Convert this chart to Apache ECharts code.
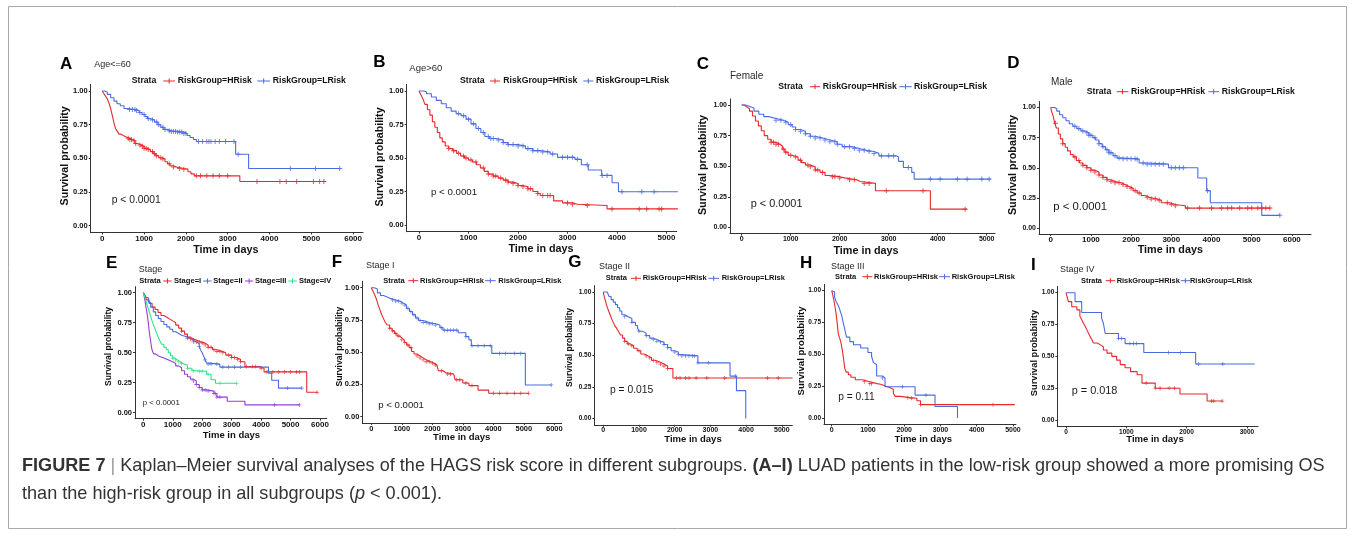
<!DOCTYPE html>
<html>
<head>
<meta charset="utf-8">
<script src="https://cdn.jsdelivr.net/npm/echarts@6/dist/echarts.min.js"></script>
<style>
html,body{margin:0;padding:0;background:#fff;}
#fig{width:1356px;height:536px;}
</style>
</head>
<body>
<div id="fig"></div>
<script>
// ---- Kaplan–Meier step curves: [time in days, survival after that time] ----
// Censoring times are listed separately; their heights come from the curve.

// A: Age<=60
const ageLow_H = [[0,1],[40,0.98],[80,0.96],[120,0.94],[160,0.91],[200,0.87],[230,0.83],[260,0.79],[290,0.75],[320,0.72],[360,0.70],[400,0.68],[450,0.67],[500,0.66],[560,0.65],[640,0.64],[720,0.63],[780,0.61],[850,0.60],[920,0.59],[1000,0.575],[1080,0.565],[1150,0.55],[1220,0.535],[1280,0.52],[1350,0.505],[1420,0.495],[1500,0.475],[1560,0.46],[1620,0.445],[1700,0.435],[1780,0.425],[1950,0.42],[2050,0.40],[2120,0.385],[2200,0.37],[3290,0.328],[5350,0.328]];
const ageLow_H_cens = [620,660,700,760,800,900,960,1000,1050,1100,1200,1250,1300,1400,1450,1600,1700,1850,1950,2250,2350,2500,2650,2800,3000,3700,4250,4400,4650,5050,5200,5300];
const ageLow_L = [[0,1],[60,0.99],[120,0.975],[200,0.95],[280,0.925],[350,0.905],[430,0.89],[520,0.87],[600,0.862],[800,0.855],[880,0.84],[950,0.825],[1020,0.81],[1080,0.795],[1150,0.785],[1250,0.77],[1330,0.75],[1400,0.73],[1470,0.715],[1550,0.705],[1650,0.70],[1800,0.695],[1950,0.685],[2030,0.67],[2100,0.655],[2180,0.64],[2250,0.625],[3190,0.53],[3500,0.425],[5700,0.425]];
const ageLow_L_cens = [650,720,780,820,900,1000,1100,1200,1300,1350,1450,1500,1600,1650,1700,1750,1800,1850,1900,1950,2000,2300,2400,2500,2550,2600,2700,2800,2950,3150,3250,4500,5100,5680];

// B: Age>60
const ageHigh_H = [[0,1],[40,0.97],[80,0.94],[120,0.90],[170,0.86],[220,0.82],[270,0.77],[320,0.73],[370,0.69],[420,0.65],[470,0.62],[530,0.59],[600,0.57],[680,0.555],[760,0.535],[840,0.515],[920,0.50],[1000,0.485],[1080,0.47],[1160,0.45],[1240,0.425],[1320,0.40],[1400,0.38],[1500,0.365],[1600,0.35],[1700,0.335],[1800,0.32],[1900,0.31],[2000,0.295],[2100,0.285],[2200,0.27],[2300,0.25],[2400,0.235],[2450,0.22],[2720,0.18],[2900,0.165],[3100,0.155],[3200,0.145],[3800,0.12],[5230,0.12]];
const ageHigh_H_cens = [600,700,800,900,950,1050,1150,1300,1400,1500,1550,1650,1750,1800,1900,2000,2100,2200,2250,2400,2500,2600,2650,3000,3100,3400,3900,4450,4600,4850,4900];
const ageHigh_L = [[0,1],[100,0.995],[150,0.98],[250,0.955],[350,0.93],[450,0.905],[550,0.875],[650,0.85],[750,0.83],[850,0.815],[950,0.79],[1050,0.755],[1150,0.72],[1250,0.69],[1330,0.66],[1420,0.645],[1550,0.635],[1700,0.615],[1800,0.60],[2000,0.59],[2150,0.57],[2300,0.555],[2450,0.545],[2650,0.53],[2800,0.505],[3150,0.49],[3280,0.45],[3420,0.41],[3690,0.37],[3900,0.315],[4030,0.248],[5230,0.248]];
const ageHigh_L_cens = [800,900,1000,1100,1200,1300,1400,1450,1500,1600,1700,1800,1900,2000,2100,2200,2300,2400,2500,2600,2700,2900,3000,3100,3200,3400,3700,3800,4100,4500,4750];

// C: Female
const female_H = [[0,1],[50,0.985],[100,0.97],[160,0.95],[220,0.91],[280,0.87],[340,0.83],[400,0.79],[460,0.75],[530,0.72],[600,0.695],[700,0.68],[780,0.665],[830,0.64],[880,0.615],[950,0.59],[1020,0.575],[1150,0.55],[1220,0.53],[1300,0.51],[1400,0.495],[1500,0.47],[1600,0.45],[1700,0.425],[1800,0.415],[2000,0.405],[2100,0.39],[2350,0.375],[2420,0.36],[2730,0.30],[3850,0.15],[4600,0.15]];
const female_H_cens = [600,650,700,750,850,900,1000,1100,1200,1350,1400,1500,1550,1650,1850,1900,2000,2200,2300,2500,2600,2950,3700,4560];
const female_L = [[0,1],[80,0.99],[150,0.975],[250,0.95],[350,0.925],[450,0.905],[550,0.89],[700,0.875],[850,0.86],[950,0.84],[1030,0.82],[1100,0.80],[1200,0.785],[1300,0.765],[1400,0.745],[1500,0.73],[1650,0.715],[1800,0.70],[1950,0.68],[2050,0.66],[2250,0.645],[2400,0.63],[2550,0.62],[2700,0.605],[2800,0.585],[3150,0.575],[3200,0.54],[3300,0.49],[3470,0.45],[3520,0.395],[5080,0.395]];
const female_L_cens = [700,800,900,1000,1100,1200,1300,1400,1500,1600,1700,1800,1900,1950,2100,2200,2300,2400,2500,2600,2700,2850,3000,3100,3400,3850,4050,4400,4600,4900,5050];

// D: Male
const male_H = [[0,1],[20,0.97],[60,0.93],[100,0.87],[140,0.83],[190,0.78],[240,0.74],[300,0.70],[360,0.67],[420,0.64],[490,0.61],[560,0.59],[640,0.56],[720,0.54],[800,0.52],[900,0.50],[1000,0.48],[1100,0.465],[1200,0.44],[1300,0.42],[1400,0.40],[1500,0.385],[1600,0.375],[1750,0.36],[1850,0.345],[1950,0.33],[2050,0.31],[2150,0.29],[2250,0.27],[2350,0.255],[2450,0.24],[2650,0.23],[2750,0.21],[2950,0.195],[3100,0.185],[3350,0.165],[5470,0.165]];
const male_H_cens = [120,300,600,700,800,900,1000,1100,1200,1300,1400,1500,1600,1700,1800,1900,2000,2100,2200,2400,2500,2600,2700,2900,3000,3100,3400,3700,4000,4250,4400,4500,4700,4900,5000,5150,5250,5350,5450];
const male_L = [[0,1],[100,0.99],[150,0.97],[220,0.94],[300,0.915],[380,0.89],[460,0.865],[550,0.845],[650,0.825],[750,0.805],[850,0.79],[950,0.77],[1050,0.75],[1120,0.73],[1200,0.70],[1280,0.675],[1360,0.65],[1450,0.625],[1550,0.60],[1650,0.58],[1800,0.575],[2150,0.57],[2200,0.54],[2400,0.53],[2930,0.50],[3660,0.415],[3880,0.31],[3970,0.21],[5250,0.105],[5700,0.105]];
const male_L_cens = [600,700,800,900,950,1000,1100,1200,1300,1400,1450,1500,1600,1700,1800,1900,2000,2100,2150,2300,2400,2500,2600,2700,2800,3000,3100,3200,3300,3900,5700];

// E: Stage (all four stages)
const stage_I = [[0,1],[60,0.97],[120,0.94],[200,0.91],[300,0.88],[400,0.86],[500,0.835],[600,0.81],[700,0.795],[800,0.78],[900,0.765],[1000,0.75],[1100,0.73],[1200,0.705],[1300,0.68],[1400,0.655],[1500,0.63],[1600,0.615],[1700,0.605],[1800,0.59],[1950,0.58],[2100,0.565],[2200,0.545],[2350,0.525],[2500,0.51],[2700,0.50],[2800,0.48],[3000,0.46],[3150,0.445],[3300,0.425],[3450,0.385],[3950,0.37],[4100,0.34],[5550,0.17],[5900,0.17]];
const stage_I_cens = [1300,1500,1600,1700,1800,1900,2000,2100,2200,2300,2400,2500,2600,2700,2900,3000,3100,3200,3300,3500,3700,3800,4000,4200,4400,4600,4800,5000,5200,5300,5900];
const stage_II = [[0,1],[50,0.98],[100,0.96],[170,0.92],[250,0.88],[340,0.84],[420,0.81],[510,0.785],[600,0.76],[700,0.735],[800,0.715],[900,0.695],[1000,0.675],[1100,0.66],[1200,0.645],[1300,0.635],[1450,0.62],[1600,0.605],[1700,0.59],[1800,0.575],[1900,0.55],[1950,0.52],[2000,0.50],[2050,0.47],[2100,0.44],[2150,0.415],[2200,0.405],[2600,0.38],[4250,0.33],[4360,0.27],[4590,0.205],[5380,0.205]];
const stage_II_cens = [1500,1700,1900,2100,2200,2300,2500,2700,2900,3100,3300,4900,5380];
const stage_III = [[0,1],[30,0.97],[60,0.93],[90,0.88],[120,0.84],[150,0.79],[180,0.73],[210,0.66],[240,0.61],[270,0.56],[300,0.52],[350,0.49],[420,0.475],[500,0.465],[600,0.455],[700,0.445],[800,0.435],[900,0.425],[1000,0.41],[1100,0.39],[1200,0.375],[1300,0.35],[1400,0.32],[1500,0.30],[1600,0.28],[1700,0.265],[1800,0.235],[1900,0.21],[2000,0.19],[2150,0.18],[2400,0.16],[2500,0.13],[2850,0.095],[3450,0.065],[5300,0.065]];
const stage_III_cens = [1700,1800,1900,2000,2100,2200,2400,2450,2500,2600,4450,5300];
const stage_IV = [[0,1],[40,0.97],[80,0.94],[130,0.90],[180,0.86],[230,0.82],[280,0.78],[330,0.74],[380,0.71],[440,0.67],[500,0.635],[560,0.60],[620,0.57],[700,0.545],[780,0.525],[850,0.50],[920,0.475],[1000,0.455],[1080,0.44],[1150,0.425],[1250,0.41],[1350,0.395],[1500,0.37],[1650,0.35],[1800,0.345],[2150,0.32],[2300,0.275],[2450,0.245],[3170,0.245]];
const stage_IV_cens = [1000,1100,1200,1300,1500,1700,1900,2000,2200,2600,3170];

// F: Stage I by risk group
const s1_H = [[0,1],[40,0.98],[80,0.96],[120,0.94],[170,0.91],[220,0.87],[280,0.83],[340,0.79],[400,0.76],[460,0.73],[520,0.71],[600,0.685],[680,0.665],[760,0.645],[840,0.625],[920,0.61],[1000,0.595],[1080,0.575],[1160,0.555],[1240,0.535],[1320,0.505],[1400,0.485],[1500,0.47],[1600,0.455],[1700,0.44],[1800,0.425],[1950,0.415],[2050,0.40],[2150,0.385],[2200,0.355],[2350,0.34],[2450,0.33],[2700,0.32],[2750,0.285],[3000,0.26],[3200,0.24],[3500,0.205],[3850,0.18],[5150,0.18]];
const s1_H_cens = [600,700,800,900,1000,1100,1200,1300,1500,1600,1700,1800,1900,2000,2100,2300,2500,2600,2800,2900,3100,3300,4000,4200,4450,4700,4900,5150];
const s1_L = [[0,1],[100,0.99],[200,0.96],[300,0.94],[400,0.93],[500,0.915],[650,0.905],[800,0.895],[950,0.88],[1050,0.865],[1150,0.84],[1250,0.815],[1350,0.79],[1450,0.765],[1550,0.745],[1700,0.73],[1900,0.72],[2100,0.71],[2250,0.69],[2350,0.67],[2850,0.65],[3100,0.62],[3200,0.595],[3280,0.55],[3950,0.49],[5050,0.245],[5900,0.245]];
const s1_L_cens = [700,800,900,1000,1100,1200,1300,1400,1500,1600,1700,1800,1900,2000,2100,2300,2400,2500,2600,2700,2800,3100,3300,3500,3700,3900,4200,4400,4700,4900,5900];

// G: Stage II by risk group
const s2_H = [[0,1],[20,0.97],[50,0.94],[80,0.91],[110,0.88],[150,0.85],[190,0.82],[230,0.79],[280,0.76],[330,0.73],[380,0.71],[430,0.685],[480,0.66],[540,0.635],[600,0.61],[670,0.59],[750,0.575],[850,0.555],[950,0.535],[1050,0.51],[1150,0.495],[1250,0.48],[1350,0.46],[1450,0.445],[1600,0.43],[1700,0.415],[1800,0.395],[1950,0.32],[5300,0.32]];
const s2_H_cens = [600,700,800,1000,1200,1300,1400,1500,1600,1700,1800,2050,2150,2300,2400,2600,2900,3400,4600,4900];
const s2_L = [[0,1],[110,0.985],[160,0.965],[220,0.94],[280,0.92],[340,0.90],[400,0.875],[460,0.85],[520,0.82],[600,0.805],[700,0.79],[800,0.76],[900,0.735],[960,0.715],[1000,0.69],[1100,0.675],[1200,0.655],[1300,0.635],[1400,0.625],[1500,0.61],[1600,0.605],[1700,0.585],[1800,0.56],[1900,0.535],[2000,0.525],[2100,0.505],[2200,0.495],[2650,0.44],[3550,0.335],[3730,0.22],[3990,0]];
const s2_L_cens = [600,800,1000,1200,1400,1500,1600,1700,1800,2000,2100,2200,2300,2400,2500,2550,2650,2950,3700];

// H: Stage III by risk group
const s3_H = [[0,1],[20,0.98],[40,0.95],[60,0.925],[80,0.895],[100,0.86],[120,0.82],[140,0.775],[160,0.72],[180,0.665],[210,0.635],[240,0.61],[270,0.57],[300,0.52],[330,0.46],[360,0.39],[400,0.36],[460,0.34],[530,0.32],[650,0.30],[850,0.285],[1050,0.27],[1250,0.265],[1350,0.25],[1500,0.24],[1600,0.225],[1700,0.195],[1750,0.17],[1900,0.16],[2150,0.155],[2350,0.135],[2450,0.105],[5050,0.105]];
const s3_H_cens = [900,1050,1100,2100,2200,2450,4450];
const s3_L = [[0,1],[40,0.99],[80,0.95],[120,0.915],[160,0.895],[200,0.87],[240,0.835],[280,0.80],[320,0.745],[350,0.71],[380,0.67],[410,0.635],[500,0.60],[600,0.575],[800,0.55],[1000,0.515],[1100,0.485],[1150,0.435],[1200,0.42],[1240,0.33],[1400,0.315],[1470,0.245],[2300,0.18],[2850,0.09],[3470,0]];
const s3_L_cens = [1400,1950,2600];

// I: Stage IV by risk group
const s4_H = [[0,1],[17,0.97],[40,0.93],[95,0.89],[180,0.865],[230,0.815],[260,0.79],[290,0.76],[320,0.735],[345,0.71],[375,0.68],[400,0.655],[430,0.63],[455,0.605],[520,0.59],[570,0.575],[620,0.55],[680,0.525],[760,0.50],[840,0.47],[900,0.435],[980,0.41],[1070,0.38],[1180,0.355],[1260,0.29],[1480,0.25],[1890,0.204],[2340,0.149],[2590,0.149]];
const s4_H_cens = [1330,1480,1560,1710,1800,2415,2450,2590];
const s4_L = [[0,1],[150,0.93],[260,0.845],[590,0.80],[620,0.76],[650,0.68],[870,0.64],[980,0.60],[1290,0.53],[2150,0.44],[3130,0.44]];
const s4_L_cens = [870,920,1060,1120,1170,1700,1900,2200,2600];

// Axis tick labels
const yTicks = [0, 0.25, 0.5, 0.75, 1];
const xTickMax = {A:6000, B:5000, C:5000, D:6000, E:6000, F:6000, G:5000, H:5000, I:3000};

// Text
const riskNames = ['RiskGroup=HRisk', 'RiskGroup=LRisk'];
const stageNames = ['Stage=I', 'Stage=II', 'Stage=III', 'Stage=IV'];
const subtitles = {A:'Age<=60', B:'Age>60', C:'Female', D:'Male', E:'Stage', F:'Stage I', G:'Stage II', H:'Stage III', I:'Stage IV'};
const pValues = {A:'p < 0.0001', B:'p < 0.0001', C:'p < 0.0001', D:'p < 0.0001', E:'p < 0.0001', F:'p < 0.0001', G:'p = 0.015', H:'p = 0.11', I:'p = 0.018'};

// ---- styling ----
const RED = '#e8282c', BLUE = '#4a6ce2', PURPLE = '#9a3cd8', GREEN = '#2fe487';
const FONT = '"Liberation Sans", Arial, Helvetica, sans-serif';
const INK = '#111';
const PLUS = 'path://M2,0H3V2H5V3H3V5H2V3H0V2H2Z';

// panel geometry: pixel of day 0, px per 1000 days, axis extent, pixels of 1.00 and 0.00
const layout = {
  A:{x0:102.3,kx:41.8,xL:90.7,xR:363,y1:91,y0:225.7,xfs:8,yfs:7.5,ms:5,
     letter:[60,64], sub:[94.3,65,9], p:[111.7,200,10.3], yt:[65,155.8,10.7], xt:[225.8,250,10.8],
     leg:{s:[131.7,81],fs:8.7,keys:[[163.3,175,177.7],[257.3,270,272.7]]}},
  B:{x0:419,kx:49.5,xL:406.7,xR:676.7,y1:91,y0:225,xfs:8,yfs:7.5,ms:5,
     letter:[373.3,62.5], sub:[409.3,68.3,9.5], p:[431,192.3,9.7], yt:[380,157,10.7], xt:[541,249,10.8],
     leg:{s:[460,81],fs:8.7,keys:[[490,500,503.3],[583.3,593.3,596]]}},
  C:{x0:741.7,kx:49,xL:730,xR:995,y1:105,y0:227.5,xfs:7,yfs:7,ms:5,
     letter:[696.7,64], sub:[730,76.7,10], p:[750.7,204,10.9], yt:[703.3,165,10.8], xt:[866,251,10.8],
     leg:{s:[778.3,86.7],fs:8.7,keys:[[810,820,822.7],[899.3,911.7,914]]}},
  D:{x0:1050.7,kx:40.2,xL:1039,xR:1311,y1:107.5,y0:228,xfs:8,yfs:7,ms:5,
     letter:[1007.3,63.8], sub:[1051,82.3,10], p:[1053.3,207.3,11.3], yt:[1013.3,165,10.8], xt:[1170.3,250,10.8],
     leg:{s:[1086.7,91.7],fs:8.7,keys:[[1116.7,1128.3,1131],[1208.3,1219,1221.7]]}},
  E:{x0:143.3,kx:29.45,xL:135,xR:326.7,y1:292.7,y0:412.7,xfs:8,yfs:7.5,ms:4,
     letter:[106,263], sub:[138.7,270,9], p:[142.7,403.3,7.8], yt:[108.3,346.5,8.5], xt:[231.4,435.7,9.5],
     leg:{s:[139.3,281],fs:7.6,keys:[[163.3,171.7,174],[203.3,211.7,213.3],[245,253.3,255],[288.3,296.7,299]]}},
  F:{x0:371.3,kx:30.5,xL:362.3,xR:561.7,y1:287.7,y0:416.5,xfs:7.5,yfs:7.5,ms:4,
     letter:[331.7,262.7], sub:[366,265.7,9], p:[378.3,405,9.6], yt:[340,346.7,8.6], xt:[461.7,437,9.5],
     leg:{s:[383.3,280.7],fs:7.5,keys:[[408.3,418.3,420],[485,495.7,498.3]]}},
  G:{x0:603.3,kx:35.7,xL:594.3,xR:792.3,y1:292,y0:418.5,xfs:7,yfs:6.5,ms:4,
     letter:[568.3,262.5], sub:[599,266.7,9], p:[610,390,10.3], yt:[570,347.5,8.5], xt:[693,439,9.5],
     leg:{s:[605.7,278.3],fs:7.5,keys:[[631,641,642.7],[708.3,719,721.7]]}},
  H:{x0:831.7,kx:36.25,xL:824,xR:1016,y1:290.7,y0:418,xfs:7,yfs:6.5,ms:4,
     letter:[800,263], sub:[831,266.7,9], p:[838.3,397.3,10.2], yt:[801,351,9.6], xt:[923.3,439,9.5],
     leg:{s:[835,276.7],fs:7.5,keys:[[862.3,872.3,874],[939,950,951.7]]}},
  I:{x0:1066,kx:60.3,xL:1057.3,xR:1258,y1:292.7,y0:420,xfs:6.5,yfs:6.5,ms:4,
     letter:[1031,265], sub:[1060,270,9], p:[1071.7,390.7,10.9], yt:[1034.3,353,9.3], xt:[1155,439,9.5],
     leg:{s:[1081,280.7],fs:7.4,keys:[[1105.7,1115,1116.7],[1180.7,1190,1190]]}}
};

const panelCurves = {
  A:[[ageLow_H,ageLow_H_cens,RED],[ageLow_L,ageLow_L_cens,BLUE]],
  B:[[ageHigh_H,ageHigh_H_cens,RED],[ageHigh_L,ageHigh_L_cens,BLUE]],
  C:[[female_H,female_H_cens,RED],[female_L,female_L_cens,BLUE]],
  D:[[male_H,male_H_cens,RED],[male_L,male_L_cens,BLUE]],
  E:[[stage_I,stage_I_cens,RED],[stage_II,stage_II_cens,BLUE],[stage_III,stage_III_cens,PURPLE],[stage_IV,stage_IV_cens,GREEN]],
  F:[[s1_H,s1_H_cens,RED],[s1_L,s1_L_cens,BLUE]],
  G:[[s2_H,s2_H_cens,RED],[s2_L,s2_L_cens,BLUE]],
  H:[[s3_H,s3_H_cens,RED],[s3_L,s3_L_cens,BLUE]],
  I:[[s4_H,s4_H_cens,RED],[s4_L,s4_L_cens,BLUE]]
};

// survival level of a step curve at time t
function survAt(curve, t) {
  let s = curve[0][1];
  for (const pt of curve) { if (pt[0] <= t) s = pt[1]; else break; }
  return s;
}

function text(x, y, str, size, opts) {
  opts = opts || {};
  return {
    type: 'text', x: x, y: y, rotation: opts.rot || 0, silent: true, z: 10,
    style: {
      x: 0, y: 0, text: str, fill: opts.color || INK,
      fontSize: size, fontFamily: FONT, fontWeight: opts.bold ? 'bold' : 'normal',
      align: opts.align || 'left', textAlign: opts.align || 'left',
      verticalAlign: 'middle', textVerticalAlign: 'middle'
    }
  };
}

function legendKey(x1, x2, y, color) {
  const cx = (x1 + x2) / 2, h = 2.5;
  return [
    {type:'line', silent:true, z:10, shape:{x1:x1, y1:y, x2:x2, y2:y}, style:{stroke:color, lineWidth:1}},
    {type:'line', silent:true, z:10, shape:{x1:cx, y1:y-h, x2:cx, y2:y+h}, style:{stroke:color, lineWidth:1}}
  ];
}

const option = {
  animation: false,
  backgroundColor: '#ffffff',
  grid: [], xAxis: [], yAxis: [], series: [], graphic: []
};

// outer frame of the figure
option.graphic.push({type:'rect', silent:true, z:0, shape:{x:8.5, y:6.5, width:1338, height:522},
  style:{fill:'none', stroke:'#a8a8a8', lineWidth:1}});

Object.keys(layout).forEach((key, i) => {
  const p = layout[key];
  const span = p.y0 - p.y1;
  const top = p.y1 - 0.05 * span, bottom = p.y0 + 0.05 * span;
  option.grid.push({left: p.xL, top: top, width: p.xR - p.xL, height: bottom - top});
  const xTicks = [];
  for (let v = 0; v <= xTickMax[key]; v += 1000) xTicks.push(v);
  option.xAxis.push({
    gridIndex: i, type: 'value',
    min: (p.xL - p.x0) / p.kx * 1000, max: (p.xR - p.x0) / p.kx * 1000,
    axisLine: {onZero: false, lineStyle: {color: '#333', width: 1}},
    axisTick: {show: true, length: 2, customValues: xTicks, lineStyle: {color: '#333'}},
    axisLabel: {customValues: xTicks, fontSize: p.xfs, fontWeight: 'bold', fontFamily: FONT, color: INK, margin: 2,
                formatter: v => String(Math.round(v))},
    splitLine: {show: false}
  });
  option.yAxis.push({
    gridIndex: i, type: 'value', min: -0.05, max: 1.05,
    axisLine: {show: true, onZero: false, lineStyle: {color: '#333', width: 1}},
    axisTick: {show: true, length: 2, customValues: yTicks, lineStyle: {color: '#333'}},
    axisLabel: {customValues: yTicks, fontSize: p.yfs, fontWeight: 'bold', fontFamily: FONT, color: INK, margin: 3,
                formatter: v => v.toFixed(2)},
    splitLine: {show: false}
  });

  panelCurves[key].forEach(([curve, cens, color]) => {
    option.series.push({
      type: 'line', xAxisIndex: i, yAxisIndex: i, data: curve, step: 'end',
      showSymbol: false, symbol: 'none', silent: true, z: 2,
      lineStyle: {color: color, width: 1.1}, itemStyle: {color: color}
    });
    option.series.push({
      type: 'scatter', xAxisIndex: i, yAxisIndex: i, silent: true, z: 3,
      data: cens.map(t => [t, survAt(curve, t)]),
      symbol: PLUS, symbolSize: p.ms, itemStyle: {color: color}
    });
  });

  // panel letter, subgroup title, p-value, axis titles
  option.graphic.push(text(p.letter[0], p.letter[1], key, 17, {bold: true, color: '#000'}));
  option.graphic.push(text(p.sub[0], p.sub[1], subtitles[key], p.sub[2], {color: '#2a2a2a'}));
  option.graphic.push(text(p.p[0], p.p[1], pValues[key], p.p[2], {color: '#1a1a1a'}));
  option.graphic.push(text(p.yt[0], p.yt[1], 'Survival probability', p.yt[2], {bold: true, align: 'center', rot: Math.PI / 2}));
  option.graphic.push(text(p.xt[0], p.xt[1], 'Time in days', p.xt[2], {bold: true, align: 'center'}));

  // legend: "Strata" followed by keyed group names
  option.graphic.push(text(p.leg.s[0], p.leg.s[1], 'Strata', p.leg.fs, {bold: true}));
  const names = key === 'E' ? stageNames : riskNames;
  p.leg.keys.forEach((k, j) => {
    const color = panelCurves[key][j][2];
    legendKey(k[0], k[1], p.leg.s[1], color).forEach(g => option.graphic.push(g));
    option.graphic.push(text(k[2], p.leg.s[1], names[j], p.leg.fs, {bold: true}));
  });
});

// figure caption
const CAP = 18.1;
const capStyle = {fontSize: CAP, fontFamily: FONT, fill: '#333'};
const capRich = {
  b: {fontSize: CAP, fontFamily: FONT, fontWeight: 'bold', fill: '#333'},
  s: {fontSize: CAP, fontFamily: FONT, fill: '#999'},
  i: {fontSize: CAP, fontFamily: FONT, fontStyle: 'italic', fill: '#333'}
};
option.graphic.push({type:'text', x:22, y:466, silent:true, z:10, style:Object.assign({
  text: '{b|FIGURE 7} {s||} Kaplan–Meier survival analyses of the HAGS risk score in different subgroups. {b|(A–I)} LUAD patients in the low-risk group showed a more promising OS',
  rich: capRich, verticalAlign: 'middle', textVerticalAlign: 'middle'}, capStyle)});
option.graphic.push({type:'text', x:22, y:494, silent:true, z:10, style:Object.assign({
  text: 'than the high-risk group in all subgroups ({i|p} < 0.001).',
  rich: capRich, verticalAlign: 'middle', textVerticalAlign: 'middle'}, capStyle)});

const chart = echarts.init(document.getElementById('fig'), null, {renderer: 'canvas', width: 1356, height: 536});
chart.setOption(option);
</script>
</body>
</html>
